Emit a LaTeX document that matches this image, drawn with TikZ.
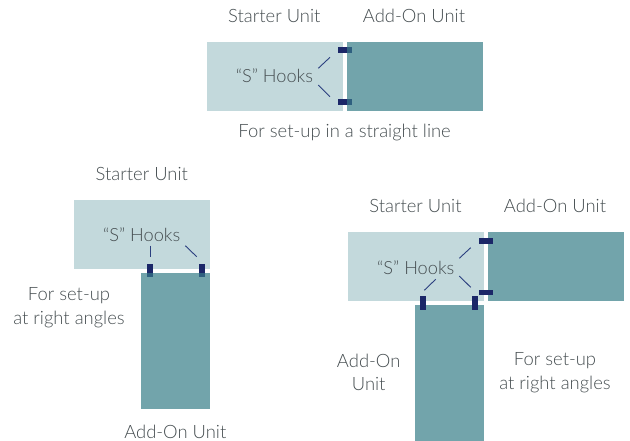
\documentclass[tikz,border=0pt]{standalone}
\usepackage{fontspec}
\setmainfont{Lato}[UprightFont=* Light]
\definecolor{starterc}{HTML}{C3D9DC}
\definecolor{addonc}{HTML}{72A4AB}
\definecolor{hookc}{HTML}{1B2768}
\definecolor{hookb}{HTML}{2E5F7F}
\definecolor{leadc}{HTML}{2B3F7F}
\definecolor{txtc}{HTML}{454D50}
\tikzset{
  starter/.style={fill=starterc, inner sep=0pt, outer sep=0pt, anchor=north west},
  addon/.style={fill=addonc, inner sep=0pt, outer sep=0pt, anchor=north west},
  lbl/.style={text=txtc, font=\fontsize{18.4}{22}\selectfont, inner sep=0pt, align=center},
  hooklbl/.style={text=txtc, font=\fontsize{18.2}{22}\selectfont, inner sep=0pt},
  hook/.style={fill=hookc},
  hookover/.style={fill=hookb},
  lead/.style={draw=leadc, line width=0.9pt}
}
\begin{document}
\begin{tikzpicture}[x=1pt,y=-1pt]
\useasboundingbox (0,0) rectangle (630,441);
% ---------- top: straight line ----------
\node[starter, minimum width=136.6pt, minimum height=69pt] (s1) at (206.7,41.7) {};
\node[addon, minimum width=136pt, minimum height=69pt] (a1) at (346.7,41.7) {};
\fill[hook] (338.3,47.3) rectangle (346.7,52.7);
\fill[hookover] (346.7,47.3) rectangle (351.7,52.7);
\fill[hook] (338.3,99) rectangle (346.7,104.7);
\fill[hookover] (346.7,99) rectangle (351.7,104.7);
\draw[lead] (318.3,68.3) -- (330,57.3);
\draw[lead] (318.3,85) -- (330,96.7);
\node[hooklbl] (h1) at (274.5,76) {“S” Hooks};
\node[lbl] (t1) at (274.3,16) {Starter Unit};
\node[lbl] (t2) at (414,16) {Add-On Unit};
\node[lbl] (t3) at (344.6,133) {For set-up in a straight line};
% ---------- bottom left ----------
\node[starter, minimum width=136pt, minimum height=69pt] (s2) at (74,200) {};
\node[addon, minimum width=69pt, minimum height=136pt] (a2) at (141,273) {};
\fill[hook] (147,264) rectangle (153,273);
\fill[hookover] (147,273) rectangle (153,277.3);
\fill[hook] (199,264) rectangle (205,273);
\fill[hookover] (199,273) rectangle (205,277.3);
\draw[lead] (150,245.7) -- (150,256.7);
\draw[lead] (185.3,245.7) -- (196.7,256.7);
\node[hooklbl] (h2) at (141.7,235) {“S” Hooks};
\node[lbl] (t4) at (141.8,174) {Starter Unit};
\node[lbl] (t5) at (69,296) {For set-up};
\node[lbl] (t6) at (69,320) {at right angles};
\node[lbl] (t7) at (175.3,431.5) {Add-On Unit};
% ---------- bottom right ----------
\node[starter, minimum width=136.3pt, minimum height=68.7pt] (s3) at (347.7,232) {};
\node[addon, minimum width=136.3pt, minimum height=68.7pt] (a3) at (487.7,232) {};
\node[addon, minimum width=69pt, minimum height=136pt] (a4) at (415,305) {};
\fill[hook] (479,238.3) rectangle (493,243.7);
\fill[hook] (479,290) rectangle (493,295.3);
\fill[hook] (420,296) rectangle (426,310);
\fill[hook] (472.3,296) rectangle (478.3,310);
\draw[lead] (459.3,258.3) -- (470.7,247.7);
\draw[lead] (459.3,276) -- (470.7,287.3);
\draw[lead] (424.3,290.3) -- (435.7,279.3);
\node[hooklbl] (h3) at (415.8,267.7) {“S” Hooks};
\node[lbl] (t8) at (415.5,206) {Starter Unit};
\node[lbl] (t9) at (555,206) {Add-On Unit};
\node[lbl] (t10) at (368.7,361) {Add-On};
\node[lbl] (t11) at (368.7,384.3) {Unit};
\node[lbl] (t12) at (555,361) {For set-up};
\node[lbl] (t13) at (555,384.3) {at right angles};
\end{tikzpicture}
\end{document}
